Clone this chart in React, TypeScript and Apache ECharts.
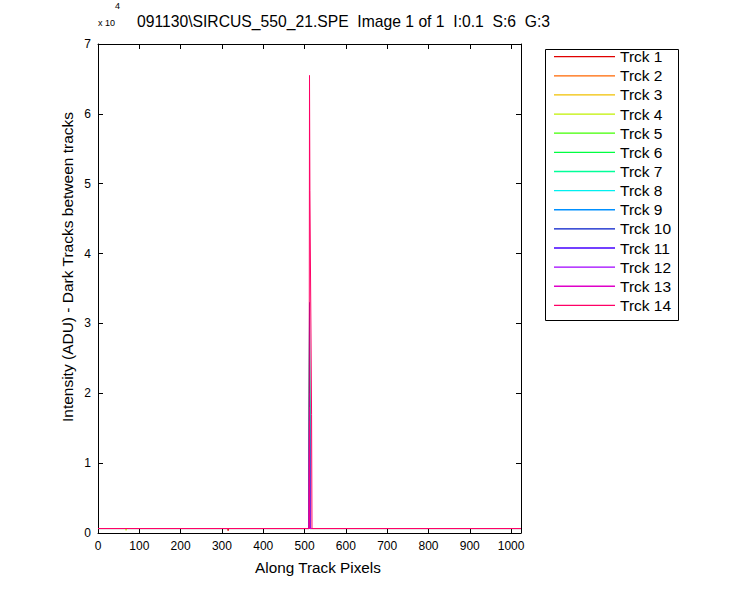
import React, { useEffect, useRef } from "react";
import * as echarts from "echarts";

const trackNames = ["Trck 1","Trck 2","Trck 3","Trck 4","Trck 5","Trck 6","Trck 7","Trck 8","Trck 9","Trck 10","Trck 11","Trck 12","Trck 13","Trck 14"];
const trackColors = ["#e00000","#ff6600","#f0c000","#c0f000","#40ff00","#00ff40","#00ff99","#00f0f0","#0090ff","#0018c8","#4400ff","#a000ff","#e000c8","#ff0066"];

// [pixel, intensity] samples for each track
const track1 = [[0,640],[314,640],[315,330],[316,640],[511,640],[512,21000],[513,640],[1024,640]];
const track2 = [[0,640],[511,640],[512,24000],[513,640],[1024,640]];
const track3 = [[0,640],[511,640],[512,26000],[513,640],[1024,640]];
const track4 = [[0,640],[67,640],[68,380],[69,640],[511,640],[512,28000],[513,640],[1024,640]];
const track5 = [[0,640],[511,640],[512,29000],[513,640],[1024,640]];
const track6 = [[0,640],[511,640],[512,30000],[513,640],[1024,640]];
const track7 = [[0,640],[511,640],[512,31000],[513,640],[1024,640]];
const track8 = [[0,640],[511,640],[512,31500],[513,640],[1024,640]];
const track9 = [[0,640],[511,640],[512,32000],[513,640],[1024,640]];
const track10 = [[0,640],[511,640],[512,33000],[513,640],[1024,640]];
const track11 = [[0,640],[511,640],[512,20000],[513,640],[1024,640]];
const track12 = [[0,640],[511,640],[512,18000],[513,640],[1024,640]];
const track13 = [[0,640],[511,640],[512,16000],[513,640],[1024,640]];
const track14 = [[0,640],[511,640],[512,65500],[513,49000],[517,17000],[518,640],[1024,640]];
const trackData = [track1,track2,track3,track4,track5,track6,track7,track8,track9,track10,track11,track12,track13,track14];

const yTickLabels = ["0","1","2","3","4","5","6","7"];

const titleText = "091130\\SIRCUS_550_21.SPE  Image 1 of 1  I:0.1  S:6  G:3";
const xName = "Along Track Pixels";
const yName = "Intensity (ADU) - Dark Tracks between tracks";

const FONT = "'Liberation Sans', Arial, sans-serif";

export default function App() {
  const ref = useRef<HTMLDivElement>(null);
  useEffect(() => {
    if (!ref.current) return;
    const chart = echarts.init(ref.current, null, { renderer: "svg" });
    const mkLine = () => ({ show: true, onZero: false, lineStyle: { color: "#000", width: 1 } });
    const mkTick = () => ({ show: true, inside: true, length: 5, lineStyle: { color: "#000", width: 1 } });
    const gridL = 98, gridT = 44, gridW = 423, gridH = 489;
    const legendTop = 47, legendLeft = 543, legendW = 133, legendH = 271;
    const option: any = {
      animation: false,
      backgroundColor: "#fff",
      textStyle: { fontFamily: FONT },
      grid: { left: gridL, top: gridT, width: gridW, height: gridH, containLabel: false },
      xAxis: [
        {
          type: "value", min: 0, max: 1024, interval: 100, position: "bottom",
          axisLine: mkLine(), axisTick: mkTick(), splitLine: { show: false },
          axisLabel: {
            show: true, color: "#000", fontSize: 12, margin: 7, fontFamily: FONT, showMaxLabel: false,
            formatter: (v: number) => (v % 100 === 0 ? String(v) : ""),
          },
        },
        {
          type: "value", min: 0, max: 1024, interval: 100, position: "top",
          axisLine: mkLine(), axisTick: mkTick(), splitLine: { show: false }, axisLabel: { show: false },
        },
      ],
      yAxis: [
        {
          type: "value", min: 0, max: 70000, interval: 10000, position: "left",
          axisLine: mkLine(), axisTick: mkTick(), splitLine: { show: false },
          axisLabel: {
            color: "#000", fontSize: 12, margin: 7, fontFamily: FONT,
            formatter: (v: number) => yTickLabels[Math.round(v / 10000)] ?? "",
          },
        },
        {
          type: "value", min: 0, max: 70000, interval: 10000, position: "right",
          axisLine: mkLine(), axisTick: mkTick(), splitLine: { show: false }, axisLabel: { show: false },
        },
      ],
      legend: {
        show: true, orient: "vertical", left: legendLeft + 11, top: 48.7,
        itemWidth: 61, itemHeight: 14, itemGap: 3.13, padding: 0,
        textStyle: { color: "#000", fontSize: 15.5, fontFamily: FONT },
        data: trackNames.map((n) => ({ name: n, icon: "path://M0,0 L61,0 L61,1.3 L0,1.3 Z" })),
      },
      graphic: [
        {
          type: "rect", left: legendLeft, top: legendTop, z: 10, silent: true,
          shape: { width: legendW, height: legendH },
          style: { fill: "none", stroke: "#000", lineWidth: 1 },
        },
        {
          type: "text", left: 137, top: 13, z: 10,
          style: { text: titleText, fill: "#000", font: `15.7px ${FONT}` },
        },
        {
          type: "text", left: 98, top: 18.5, z: 10,
          style: { text: "x 10", fill: "#000", font: `9px ${FONT}` },
        },
        {
          type: "text", left: 115, top: 1, z: 10,
          style: { text: "4", fill: "#000", font: `9px ${FONT}` },
        },
        {
          type: "text", x: 318, y: 567, z: 10,
          style: { text: xName, fill: "#000", font: `15.3px ${FONT}`, align: "center", verticalAlign: "middle" },
        },
        {
          type: "text", x: 67, y: 267, rotation: Math.PI / 2, z: 10,
          style: { text: yName, fill: "#000", font: `15.5px ${FONT}`, align: "center", verticalAlign: "middle" },
        },
      ],
      series: trackData.map((d, i) => ({
        type: "line", name: trackNames[i], data: d, xAxisIndex: 0, yAxisIndex: 0,
        showSymbol: false, symbol: "none",
        lineStyle: { color: trackColors[i], width: 1 },
        itemStyle: { color: trackColors[i] },
        emphasis: { disabled: true },
      })),
    };
    chart.setOption(option);
    return () => chart.dispose();
  }, []);
  return <div ref={ref} style={{ width: 750, height: 600, position: "absolute", left: 0, top: 0 }} />;
}
